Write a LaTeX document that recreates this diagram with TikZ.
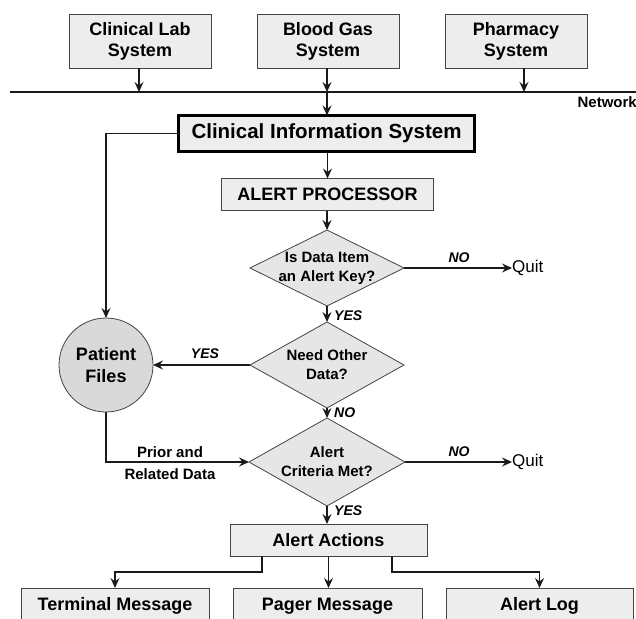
\documentclass[tikz,border=0pt]{standalone}
\usepackage{fontspec}
\setmainfont{Liberation Sans}
\usetikzlibrary{arrows.meta,shapes.geometric,calc}
\definecolor{boxfill}{HTML}{EDEDED}
\definecolor{decfill}{HTML}{E6E6E6}
\definecolor{pffill}{HTML}{D9D9D9}
\definecolor{edge}{HTML}{444444}
\definecolor{linec}{HTML}{1A1A1A}
\begin{document}
\begin{tikzpicture}[x=1pt,y=-1pt,
  box/.style={draw=edge, fill=boxfill, line width=0.9pt, rectangle, inner sep=0pt, outer sep=0pt,
    font=\fontsize{18}{21}\selectfont\bfseries, align=center},
  dec/.style={draw=edge, fill=decfill, line width=0.8pt, diamond, inner sep=0pt, outer sep=0pt},
  dtext/.style={font=\fontsize{15}{19}\selectfont\bfseries, align=center, inner sep=0pt},
  lbl/.style={font=\fontsize{14}{16}\selectfont\bfseries\itshape, inner sep=0pt},
  plain/.style={font=\fontsize{17}{20}\selectfont, inner sep=0pt},
  side/.style={font=\fontsize{15}{18}\selectfont\bfseries, inner sep=0pt},
  conn/.style={draw=linec, line width=1.3pt},
  arr/.style={conn, -{Stealth[length=10pt,width=9pt,inset=3.5pt]}}]
\useasboundingbox (0,0) rectangle (636,618);
\clip (0,0) rectangle (636,618);

% source systems
\node[box, minimum width=142pt, minimum height=54pt] (lab) at (140,41) {Clinical Lab\\System};
\node[box, minimum width=142pt, minimum height=54pt] (gas) at (328,41) {Blood Gas\\System};
\node[box, minimum width=142pt, minimum height=54pt] (pharm) at (516,41) {Pharmacy\\System};

% network
\coordinate (netL) at (10,92);
\coordinate (netR) at (640,92);
\draw[conn] (netL) -- (netR);
\node[side, font=\fontsize{15}{17}\selectfont\bfseries, anchor=east] (net) at (637,102) {Network};
\coordinate (n1) at (139,92);
\coordinate (n2) at (327,92);
\coordinate (n3) at (524,92);
\draw[arr] (lab.south -| n1) -- (n1);
\draw[arr] (gas.south -| n2) -- (n2);
\draw[arr] (pharm.south -| n3) -- (n3);

% CIS
\node[box, draw=black, line width=2.6pt, minimum width=296pt, minimum height=36pt,
  font=\fontsize{20.5}{24}\selectfont\bfseries] (cis) at (326.5,133.5) {Clinical Information System};
\draw[arr] (n2) -- (cis.north -| n2);

% alert processor
\node[box, minimum width=212pt, minimum height=32pt] (ap) at (327.5,194.5) {ALERT PROCESSOR};
\draw[arr] (cis.south -| ap) -- (ap.north);

% decision 1
\node[dec, minimum width=154pt, minimum height=76pt] (d1) at (327,268) {};
\node[dtext] (d1t) at (d1) {Is Data Item\\an Alert Key?};
\draw[arr] (ap.south -| d1) -- (d1.north);
\node[plain, anchor=west] (q1) at (512,268) {Quit};
\draw[arr] (d1.east) -- (q1.west);
\node[lbl] (no1) at (459,258) {NO};

% decision 2
\node[dec, minimum width=154pt, minimum height=86pt] (d2) at (327,365) {};
\node[dtext] (d2t) at (d2) {Need Other\\Data?};
\draw[arr] (d1.south) -- (d2.north);
\node[lbl, anchor=west] (yes1) at (334,316) {YES};

% patient files
\node[circle, draw=edge, fill=pffill, line width=0.8pt, minimum size=94pt, inner sep=0pt, outer sep=0pt,
  font=\fontsize{18}{22}\selectfont\bfseries, align=center] (pf) at (106,365) {Patient\\Files};
\draw[arr] (d2.west) -- (pf.east);
\node[lbl] (yes2) at (205,354) {YES};
\draw[arr] (cis.west) -| (pf.north);

% decision 3
\node[dec, minimum width=156pt, minimum height=88pt] (d3) at (327,462) {};
\node[dtext] (d3t) at (d3) {Alert\\Criteria Met?};
\draw[arr] (d2.south) -- (d3.north);
\node[lbl, anchor=west] (no2) at (334,413) {NO};
\draw[arr] (pf.south) |- (d3.west);
\node[side] (prior) at (170,452) {Prior and};
\node[side] (related) at (170,474) {Related Data};
\node[plain, anchor=west] (q2) at (512,462) {Quit};
\draw[arr] (d3.east) -- (q2.west);
\node[lbl] (no3) at (459,452) {NO};

% alert actions
\node[box, minimum width=197pt, minimum height=32pt] (aa) at (328.5,540) {Alert Actions};
\draw[arr] (d3.south) -- (aa.north -| d3);
\node[lbl, anchor=west] (yes3) at (334,511) {YES};

% outputs
\node[box, minimum width=188pt, minimum height=36pt] (tm) at (115,606) {Terminal Message};
\node[box, minimum width=189pt, minimum height=36pt] (pm) at (327.5,606) {Pager Message};
\node[box, minimum width=187pt, minimum height=36pt] (al) at (539.5,606) {Alert Log};
\coordinate (bl) at (262,572);
\coordinate (br) at (392,572);
\draw[arr] (aa.south -| bl) -- (bl) -| (tm.north);
\draw[arr] (aa.south) -- (aa.south |- pm.north);
\draw[arr] (aa.south -| br) -- (br) -| (al.north);
\end{tikzpicture}
\end{document}
